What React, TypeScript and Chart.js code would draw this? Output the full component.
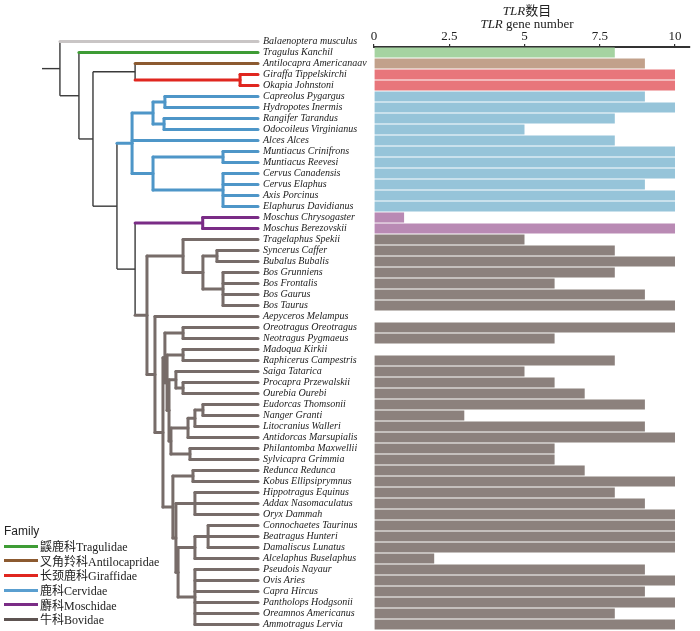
import React, { useEffect, useRef } from "react";
import { Chart, registerables } from "chart.js";

Chart.register(...registerables);

// ---------- data ----------
const species: string[] = [
  "Balaenoptera musculus", "Tragulus Kanchil", "Antilocapra Americanaav", "Giraffa Tippelskirchi",
  "Okapia Johnstoni", "Capreolus Pygargus", "Hydropotes Inermis", "Rangifer Tarandus",
  "Odocoileus Virginianus", "Alces Alces", "Muntiacus Crinifrons", "Muntiacus Reevesi",
  "Cervus Canadensis", "Cervus Elaphus", "Axis Porcinus", "Elaphurus Davidianus",
  "Moschus Chrysogaster", "Moschus Berezovskii", "Tragelaphus Spekii", "Syncerus Caffer",
  "Bubalus Bubalis", "Bos Grunniens", "Bos Frontalis", "Bos Gaurus", "Bos Taurus",
  "Aepyceros Melampus", "Oreotragus Oreotragus", "Neotragus Pygmaeus", "Madoqua Kirkii",
  "Raphicerus Campestris", "Saiga Tatarica", "Procapra Przewalskii", "Ourebia Ourebi",
  "Eudorcas Thomsonii", "Nanger Granti", "Litocranius Walleri", "Antidorcas Marsupialis",
  "Philantomba Maxwellii", "Sylvicapra Grimmia", "Redunca Redunca", "Kobus Ellipsiprymnus",
  "Hippotragus Equinus", "Addax Nasomaculatus", "Oryx Dammah", "Connochaetes Taurinus",
  "Beatragus Hunteri", "Damaliscus Lunatus", "Alcelaphus Buselaphus", "Pseudois Nayaur",
  "Ovis Aries", "Capra Hircus", "Pantholops Hodgsonii", "Oreamnos Americanus", "Ammotragus Lervia",
];

// TLR gene number per species (outgroup has no bar)
const tlrGeneNumber: (number | null)[] = [
  null, 8, 9, 10, 10, 9, 10, 8, 5, 8, 10, 10, 10, 9, 10, 10, 1, 10, 5, 8, 10, 8, 6, 9, 10,
  0, 10, 6, 0, 8, 5, 6, 7, 9, 3, 9, 10, 6, 6, 7, 10, 8, 9, 10, 10, 10, 10, 2, 9, 10, 9, 10, 8, 10,
];

// family index per species
const familyOfSpecies: number[] = [
  0, 1, 2, 3, 3, 4, 4, 4, 4, 4, 4, 4, 4, 4, 4, 4, 5, 5,
  6, 6, 6, 6, 6, 6, 6, 6, 6, 6, 6, 6, 6, 6, 6, 6, 6, 6,
  6, 6, 6, 6, 6, 6, 6, 6, 6, 6, 6, 6, 6, 6, 6, 6, 6, 6,
];

const familyNames = ["Outgroup", "鼷鹿科Tragulidae", "叉角羚科Antilocapridae", "长颈鹿科Giraffidae", "鹿科Cervidae", "麝科Moschidae", "牛科Bovidae"];
const branchColors = ["#c9c5c5", "#3e9c35", "#8c5a30", "#e0261f", "#4e96c8", "#7a2c86", "#776c69"];
const legendColors = ["#c9c5c5", "#3e9c35", "#8c5a30", "#e0261f", "#5a9fd0", "#7a2c86", "#5d5351"];
const barColors = ["#cccccc", "#a5d3a1", "#c2a18b", "#e8767b", "#96c4d9", "#b98ab4", "#8c817d"];

const xTicks = [0, 2.5, 5, 7.5, 10];

// tree topology: leaves are species indices, ":n" = node position (0 = root stub, 100 = tips)
const treeAG = "(2,(3,4):91.7):43.1";
const treeCervidae = "(((5,6):56.9,(7,8):56.5):51.4,9,((10,11):83.8,(12,13,14,15):83.8):51.4):41.7";
const treeBovinae = "(18,((19,20):81,(21,22,23,24):83.8):74.5):65.3";
const treeAntilopinae = "((26,27):65.3,((28,29):65.3,((30,(31,32):65.3):62,((((33,34):74.5,35):70.8,36):67.6,(37,38):68.5):59.7):58.8):57.9):56.9";
const treeLower = "((39,40):69.9,((41,42,43):70.8,(((44,45,46):76.9,47):70.8,(48,49,50,51,52,53):70.8):63):62):60.6";
const treeRest = "(25,(" + treeAntilopinae + "," + treeLower + "):56):52.3";
const treeBovidae = "(" + treeBovinae + "," + treeRest + "):48.6";
const treeMB = "((16,17):74.4," + treeBovidae + "):43.1";
const treeR3 = "(" + treeCervidae + "," + treeMB + "):34.7";
const treeNewick = "(0,(1,(" + treeAG + "," + treeR3 + "):23.6):17.1):8.3";

// ---------- layout constants ----------
const LEAF_DEPTH = 100;
const TREE_LEFT_PX = 42;
const TREE_TIP_PX = 258;
const PLOT_LEFT = 374;
const PLOT_RIGHT = 690;
const PLOT_TOP = 47;
const PLOT_BOTTOM = 630;
const BAR_UNIT_PX = 30.1;
const AXIS_HEIGHT = 16;

type TNode = { leaf?: number; d: number; children?: TNode[]; y: number; fam: number };

function parseTree(src: string): TNode {
  const s = src.replace(/\s+/g, "");
  let i = 0;
  const num = () => {
    const j = i;
    while (i < s.length && /[0-9.]/.test(s[i])) i++;
    return parseFloat(s.slice(j, i));
  };
  const node = (): TNode => {
    if (s[i] === "(") {
      i++;
      const children = [node()];
      while (s[i] === ",") {
        i++;
        children.push(node());
      }
      i++;
      let d = 0;
      if (s[i] === ":") {
        i++;
        d = num();
      }
      return { children, d, y: 0, fam: -1 };
    }
    const leaf = num();
    return { leaf, d: LEAF_DEPTH, y: leaf, fam: familyOfSpecies[leaf] };
  };
  return node();
}

function layoutTree(n: TNode) {
  if (!n.children) return;
  n.children.forEach(layoutTree);
  const f = n.children[0], l = n.children[n.children.length - 1];
  n.y = (f.y + l.y) / 2;
  const fams = new Set(n.children.map((c) => c.fam));
  n.fam = fams.size === 1 && !fams.has(-1) ? n.children[0].fam : -1;
}

type Seg = { pts: { x: number; y: number }[]; fam: number };
function collectSegments(root: TNode): Seg[] {
  const segs: Seg[] = [{ pts: [{ x: 0, y: root.y }, { x: root.d, y: root.y }], fam: -1 }];
  const walk = (n: TNode) => {
    if (!n.children) return;
    const f = n.children[0], l = n.children[n.children.length - 1];
    segs.push({ pts: [{ x: n.d, y: f.y }, { x: n.d, y: l.y }], fam: n.fam });
    n.children.forEach((c) => {
      segs.push({ pts: [{ x: n.d, y: c.y }, { x: c.d, y: c.y }], fam: c.fam });
      walk(c);
    });
  };
  walk(root);
  return segs;
}

export default function App() {
  const ref = useRef<HTMLCanvasElement>(null);

  useEffect(() => {
    const root = parseTree(treeNewick);
    layoutTree(root);
    const segs = collectSegments(root);

    const treeUnit = (TREE_TIP_PX - TREE_LEFT_PX) / LEAF_DEPTH;
    const xtMin = (PLOT_LEFT - TREE_LEFT_PX) / treeUnit;
    const xtMax = xtMin + (PLOT_RIGHT - PLOT_LEFT) / treeUnit;

    const treeDatasets = segs.map((s) => ({
      type: "line" as const,
      data: s.pts,
      xAxisID: "xt",
      yAxisID: "y",
      borderColor: s.fam >= 0 ? branchColors[s.fam] : "#3a3a3a",
      borderWidth: s.fam >= 0 ? 3 : 1.4,
      borderCapStyle: s.fam >= 0 ? ("round" as const) : ("butt" as const),
      pointRadius: 0,
      tension: 0,
      fill: false,
      clip: false as any,
      order: s.fam >= 0 ? 1 : 2,
    }));

    const barRows: { x: number; y: number }[] = [];
    const barBg: string[] = [];
    tlrGeneNumber.forEach((v, i) => {
      if (v === null) return;
      barRows.push({ x: v, y: i });
      barBg.push(barColors[familyOfSpecies[i]]);
    });

    const labelPlugin = {
      id: "speciesLabels",
      afterDatasetsDraw(chart: any) {
        const { ctx } = chart;
        const xt = chart.scales.xt, y = chart.scales.y;
        ctx.save();
        ctx.font = 'italic 10px "Liberation Serif", serif';
        ctx.fillStyle = "#222";
        ctx.textBaseline = "middle";
        ctx.textAlign = "left";
        species.forEach((name, i) => {
          ctx.fillText(name, xt.getPixelForValue(LEAF_DEPTH) + 5, y.getPixelForValue(i));
        });
        ctx.restore();
      },
    };

    const chart = new Chart(ref.current!, {
      type: "bar",
      data: {
        datasets: [
          {
            type: "bar",
            data: barRows as any,
            xAxisID: "x",
            yAxisID: "y",
            backgroundColor: barBg,
            borderWidth: 0,
            barPercentage: 0.92,
            categoryPercentage: 1,
            order: 0,
          } as any,
          ...(treeDatasets as any[]),
        ],
      },
      options: {
        indexAxis: "y",
        animation: false,
        responsive: false,
        events: [],
        layout: {
          padding: { left: PLOT_LEFT, right: 700 - PLOT_RIGHT, top: PLOT_TOP - AXIS_HEIGHT, bottom: 631 - PLOT_BOTTOM },
        },
        plugins: { legend: { display: false }, tooltip: { enabled: false } },
        scales: {
          x: {
            type: "linear",
            position: "top",
            min: 0,
            max: (PLOT_RIGHT - PLOT_LEFT) / BAR_UNIT_PX,
            offset: false,
            afterBuildTicks: (s: any) => {
              s.ticks = xTicks.map((v) => ({ value: v }));
            },
            afterFit: (s: any) => {
              s.height = AXIS_HEIGHT;
            },
            ticks: {
              autoSkip: false,
              maxRotation: 0,
              padding: 0,
              color: "#222",
              font: { family: '"Liberation Serif", serif', size: 13 },
            },
            grid: { display: true, drawOnChartArea: false, drawTicks: true, tickLength: 3, color: "#333", lineWidth: 1.2, offset: false },
            border: { display: true, color: "#333", width: 2 },
          },
          xt: {
            type: "linear",
            axis: "x",
            display: false,
            offset: false,
            min: xtMin,
            max: xtMax,
          },
          y: {
            type: "linear",
            display: false,
            reverse: true,
            offset: false,
            grid: { offset: false },
            min: 0.5,
            max: tlrGeneNumber.length - 0.5,
          },
        } as any,
      },
      plugins: [labelPlugin],
    } as any);
    return () => chart.destroy();
  }, []);

  const serif = '"Liberation Serif", "Noto Sans CJK SC", serif';
  return (
    <div style={{ position: "fixed", left: 0, top: 0, width: 700, height: 631, background: "#fff" }}>
      <canvas ref={ref} width={700} height={631} style={{ position: "absolute", left: 0, top: 0, width: 700, height: 631 }} />
      <div
        style={{
          position: "absolute", left: PLOT_LEFT, width: 306, top: 5, textAlign: "center",
          font: `13px ${serif}`, lineHeight: "12.5px", color: "#222",
        }}
      >
        <div><i>TLR</i>数目</div>
        <div><i>TLR</i> gene number</div>
      </div>
      <div style={{ position: "absolute", left: 4, top: 524, color: "#222" }}>
        <div style={{ font: '12px "Liberation Sans", sans-serif', lineHeight: "15px" }}>Family</div>
        {familyNames.slice(1).map((name, k) => (
          <div key={name} style={{ display: "flex", alignItems: "center", height: 14.6, font: `12px ${serif}` }}>
            <span style={{ display: "inline-block", width: 34, height: 3, background: legendColors[k + 1], marginRight: 2 }} />
            <span>{name}</span>
          </div>
        ))}
      </div>
    </div>
  );
}
